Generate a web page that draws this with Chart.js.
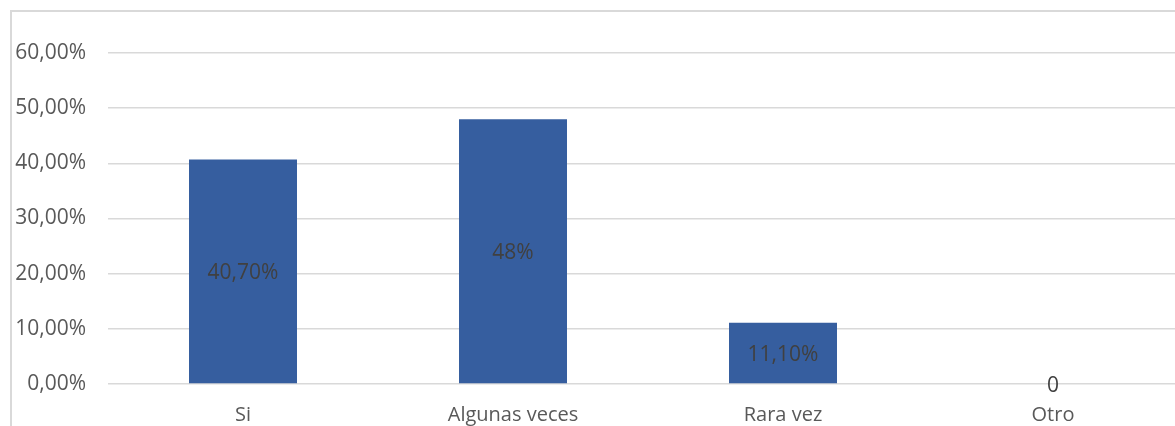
<!DOCTYPE html>
<html>
<head>
<meta charset="utf-8">
<script src="https://cdn.jsdelivr.net/npm/chart.js@4"></script>
<style>
html,body{margin:0;padding:0;background:#fff;overflow:hidden;width:1175px;height:426px;}
#frame{position:absolute;left:10px;top:10px;width:1300px;height:500px;border:2px solid #d9d9d9;box-sizing:border-box;}
#wrap{position:absolute;left:0;top:0;width:1200px;height:440px;}
</style>
</head>
<body>
<div id="frame"></div>
<div id="wrap"><canvas id="c" width="1200" height="440"></canvas></div>
<script>
const categories = ["Si", "Algunas veces", "Rara vez", "Otro"];
const values = [40.7, 48, 11.1, 0];
const dataLabels = ["40,70%", "48%", "11,10%", "0"];
const yTicks = ["0,00%", "10,00%", "20,00%", "30,00%", "40,00%", "50,00%", "60,00%"];

const FONT = "'Open Sans', sans-serif";

const labelPlugin = {
  id: 'centerLabels',
  afterDatasetsDraw(chart) {
    const ctx = chart.ctx;
    const meta = chart.getDatasetMeta(0);
    ctx.save();
    ctx.font = "21px " + FONT;
    ctx.fillStyle = "#404040";
    ctx.textAlign = "center";
    ctx.textBaseline = "middle";
    meta.data.forEach((bar, i) => {
      const y = (bar.y + bar.base) / 2 + 2;
      ctx.fillText(dataLabels[i], bar.x, y);
    });
    ctx.restore();
  }
};

new Chart(document.getElementById('c'), {
  type: 'bar',
  data: {
    labels: categories,
    datasets: [{
      data: values,
      backgroundColor: '#365E9F',
      barPercentage: 0.4,
      categoryPercentage: 1.0
    }]
  },
  options: {
    responsive: false,
    animation: false,
    layout: { padding: { top: 53, right: 12, left: 0, bottom: 0 } },
    plugins: { legend: { display: false }, tooltip: { enabled: false } },
    scales: {
      y: {
        min: 0, max: 60,
        ticks: {
          stepSize: 10,
          padding: 22,
          color: '#595959',
          font: { family: FONT, size: 21 },
          callback: (v, i) => yTicks[Math.round(v / 10)]
        },
        grid: { color: '#d9d9d9', lineWidth: 1.5, drawTicks: false },
        border: { display: false },
        afterFit: s => { s.width = 108; }
      },
      x: {
        ticks: { color: '#595959', padding: 19, font: { family: FONT, size: 20 } },
        grid: { display: false, drawTicks: false },
        border: { display: false },
        afterFit: s => { s.height = 56; }
      }
    }
  },
  plugins: [labelPlugin]
});
</script>
</body>
</html>
